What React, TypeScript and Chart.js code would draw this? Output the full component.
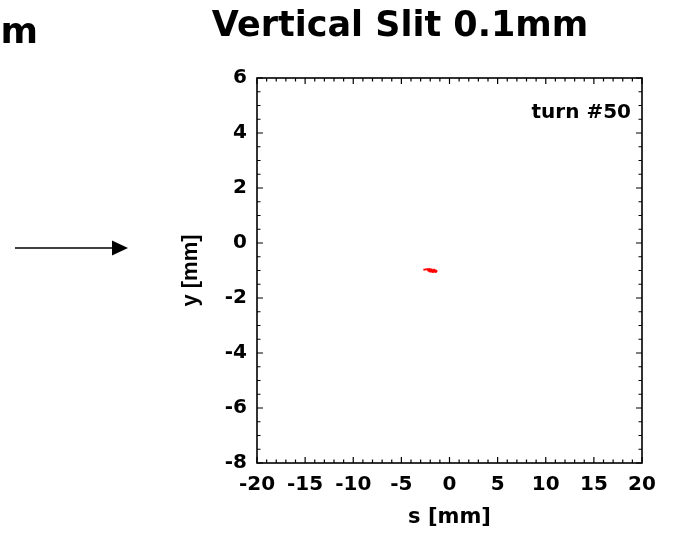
import React, { useEffect, useRef } from "react";
import { Chart, registerables } from "chart.js";

Chart.register(...registerables);

const TITLE = "Vertical Slit 0.1mm";
const LEFT_FRAGMENT = "0.1mm";
const TURN_LABEL = "turn #50";
const X_TITLE = "s [mm]";
const Y_TITLE = "y [mm]";

const X_MIN = -20;
const X_MAX = 20;
const X_STEP = 5;
const X_MINOR = 1;
const Y_MIN = -8;
const Y_MAX = 6;
const Y_STEP = 2;
const Y_MINOR = 0.5;

const sValues = [
  -2.62, -2.45, -2.3, -2.22, -2.15, -2.1, -2.05, -2.0, -1.95, -1.9, -1.85, -1.8, -1.75, -1.7, -1.65,
  -1.6, -1.55, -1.5, -1.45, -1.4, -1.35, -2.18, -2.02, -1.88, -1.72, -1.58, -1.48, -2.08, -1.82, -1.62,
];
const yValues = [
  -0.97, -0.96, -0.95, -0.98, -0.96, -1.0, -0.97, -1.02, -0.99, -1.01, -0.98, -1.03, -1.0, -1.02, -0.99,
  -1.04, -1.01, -1.03, -1.0, -1.05, -1.02, -1.01, -1.04, -0.96, -1.05, -0.97, -1.03, -0.95, -1.04, -1.0,
];

const FONT_H = "'DejaVu Sans', sans-serif";
const FONT_V = "'Liberation Sans', Arial, sans-serif";

const isMultiple = (v: number, step: number) => Math.abs(v / step - Math.round(v / step)) < 1e-6;

const framePlugin = {
  id: "frame",
  afterDatasetsDraw(chart: any) {
    const { ctx, chartArea: a, scales } = chart;
    const xs = scales.x;
    const ys = scales.y;
    ctx.save();
    ctx.strokeStyle = "#000";
    ctx.lineWidth = 1.2;
    ctx.beginPath();
    for (let v = X_MIN; v <= X_MAX + 1e-9; v += X_MINOR) {
      const px = xs.getPixelForValue(v);
      const len = isMultiple(v, X_STEP) ? 6 : 3.5;
      ctx.moveTo(px, a.bottom);
      ctx.lineTo(px, a.bottom - len);
      ctx.moveTo(px, a.top);
      ctx.lineTo(px, a.top + len);
    }
    for (let v = Y_MIN; v <= Y_MAX + 1e-9; v += Y_MINOR) {
      const py = ys.getPixelForValue(v);
      const len = isMultiple(v, Y_STEP) ? 6 : 3.5;
      ctx.moveTo(a.left, py);
      ctx.lineTo(a.left + len, py);
      ctx.moveTo(a.right, py);
      ctx.lineTo(a.right - len, py);
    }
    ctx.stroke();
    ctx.lineWidth = 1.6;
    ctx.strokeRect(a.left, a.top, a.right - a.left, a.bottom - a.top);
    ctx.restore();
  },
  afterDraw(chart: any) {
    const { ctx, chartArea: a } = chart;
    ctx.save();
    ctx.fillStyle = "#000";
    ctx.strokeStyle = "#000";
    ctx.font = `bold 20px ${FONT_H}`;
    ctx.textAlign = "right";
    ctx.textBaseline = "alphabetic";
    ctx.fillText(TURN_LABEL, a.right - 11, 118);
    ctx.font = `bold 36px ${FONT_H}`;
    ctx.fillText(LEFT_FRAGMENT, 38, 43);
    ctx.lineWidth = 1.5;
    ctx.beginPath();
    ctx.moveTo(15, 248);
    ctx.lineTo(114, 248);
    ctx.stroke();
    ctx.beginPath();
    ctx.moveTo(112, 240.5);
    ctx.lineTo(128, 248);
    ctx.lineTo(112, 255.5);
    ctx.closePath();
    ctx.fill();
    ctx.restore();
  },
};

export default function App() {
  const ref = useRef<HTMLCanvasElement | null>(null);
  useEffect(() => {
    if (!ref.current) return;
    const points = sValues.map((s, i) => ({ x: s, y: yValues[i] }));
    const chart = new Chart(ref.current, {
      type: "scatter",
      data: {
        datasets: [
          {
            data: points,
            backgroundColor: "#ff0000",
            borderWidth: 0,
            pointRadius: 1.3,
            pointStyle: "rect",
          },
        ],
      },
      options: {
        responsive: false,
        animation: false,
        layout: { padding: { left: 158, right: 31, top: 0, bottom: 0 } },
        plugins: {
          legend: { display: false },
          tooltip: { enabled: false },
          title: {
            display: true,
            text: TITLE,
            color: "#000",
            font: { family: FONT_H, size: 35, weight: "bold" },
            padding: { top: 6, bottom: 30 },
          },
        },
        scales: {
          x: {
            type: "linear",
            position: "bottom",
            min: X_MIN,
            max: X_MAX,
            ticks: {
              stepSize: X_STEP,
              color: "#000",
              font: { family: FONT_H, size: 20, weight: "bold" },
              padding: 10,
              maxRotation: 0,
              autoSkip: false,
            },
            grid: { display: false, drawTicks: false },
            border: { display: false },
            title: {
              display: true,
              text: X_TITLE,
              color: "#000",
              font: { family: FONT_H, size: 21, weight: "bold" },
              padding: { top: 0, bottom: 4 },
            },
            afterFit: (s: any) => {
              s.height = 71;
            },
          },
          y: {
            type: "linear",
            min: Y_MIN,
            max: Y_MAX,
            ticks: {
              stepSize: Y_STEP,
              color: "#000",
              font: { family: FONT_H, size: 20, weight: "bold" },
              padding: 10,
            },
            grid: { display: false, drawTicks: false },
            border: { display: false },
            title: {
              display: true,
              text: Y_TITLE,
              color: "#000",
              font: { family: FONT_V, size: 22, weight: "bold" },
              padding: { top: 20, bottom: 0 },
            },
            afterFit: (s: any) => {
              s.width = 99;
            },
          },
        },
      },
      plugins: [framePlugin],
    });
    return () => chart.destroy();
  }, []);
  return (
    <div style={{ position: "absolute", left: 0, top: 0, width: 673, height: 534, background: "#fff" }}>
      <canvas ref={ref} width={673} height={534} style={{ display: "block" }} />
    </div>
  );
}
